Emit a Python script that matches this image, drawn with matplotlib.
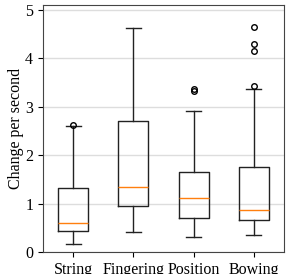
import matplotlib.pyplot as plt

plt.rcParams['font.family'] = ['Liberation Serif', 'DejaVu Serif']

labels = ['String', 'Fingering', 'Position', 'Bowing']
whislo = [0.17, 0.42, 0.31, 0.35]
q1 = [0.44, 0.95, 0.71, 0.67]
med = [0.61, 1.35, 1.12, 0.875]
q3 = [1.33, 2.71, 1.65, 1.76]
whishi = [2.60, 4.62, 2.92, 3.36]
fliers = [[2.62], [], [3.33, 3.36], [3.43, 4.15, 4.30, 4.65]]

stats = []
for i in range(len(labels)):
    stats.append({'label': labels[i], 'whislo': whislo[i], 'q1': q1[i],
                  'med': med[i], 'q3': q3[i], 'whishi': whishi[i],
                  'fliers': fliers[i]})

fig = plt.figure(figsize=(2.86, 2.74), dpi=100)
ax = fig.add_axes([0.150, 0.080, 0.843, 0.902])

ax.bxp(stats, widths=0.5,
       boxprops=dict(color='#222222', linewidth=1.0),
       whiskerprops=dict(color='#222222', linewidth=1.0),
       capprops=dict(color='#222222', linewidth=1.0),
       medianprops=dict(color='#ff7f0e', linewidth=1.0),
       flierprops=dict(marker='o', markersize=4, markerfacecolor='none',
                       markeredgecolor='black', markeredgewidth=1.0))

ax.set_axisbelow(True)
ax.yaxis.grid(True, color='#dddddd', linewidth=1.0)
ax.set_ylim(0, 5.1)
ax.set_xlim(0.5, 4.5)
ax.set_yticks([0, 1, 2, 3, 4, 5])
ax.set_ylabel('Change per second', fontsize=11.5, labelpad=1)
ax.tick_params(axis='both', labelsize=11.5)
for s in ax.spines.values():
    s.set_color('#444444')

fig.savefig('out.png', dpi=100)
